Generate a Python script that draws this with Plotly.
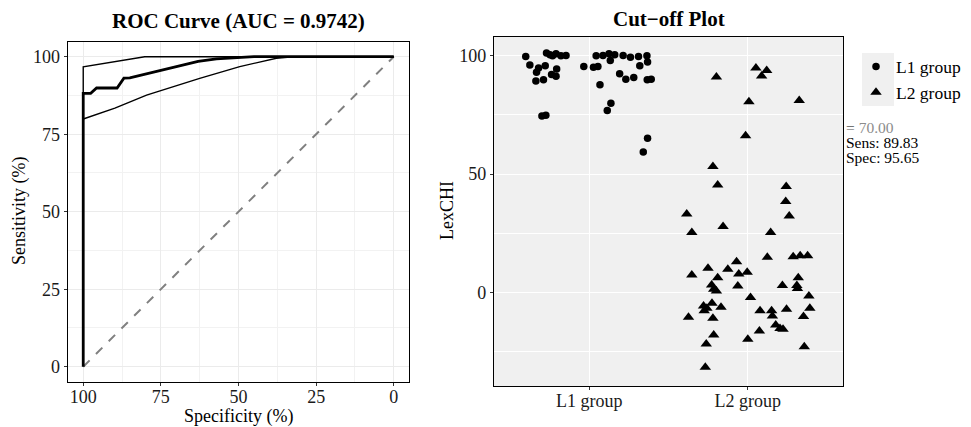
import plotly.graph_objects as go

# ---------------- ROC data ----------------
roc_spec = [100, 100, 97.6, 95.7, 89.1, 86.9, 85.0, 75.0, 63.0, 57.1, 45.0, 0]
roc_sens = [0, 88.2, 88.2, 89.9, 89.9, 93.1, 93.2, 95.5, 98.5, 99.3, 100, 100]

ci_up_spec = [100, 100, 80.2, 0]
ci_up_sens = [88.2, 96.7, 100, 100]

ci_lo_spec = [100, 89.8, 79.6, 62.5, 49.6, 37.8, 32.5, 0]
ci_lo_sens = [79.9, 83.4, 87.6, 93.0, 96.8, 99.5, 100, 100]

diag_spec = [100, 0]
diag_sens = [0, 100]

# ---------------- Cut-off plot data ----------------
group_labels = ["L1 group", "L2 group"]
l1_x = [0.600, 0.626, 0.681, 0.668, 0.664, 0.712, 0.723, 0.731, 0.753, 0.769, 0.791, 0.822,
        0.854, 0.763, 0.791, 0.795, 0.702, 0.727,
        0.966, 1.027, 1.055, 1.044, 1.087, 1.125, 1.133, 1.161, 1.214, 1.260, 1.311, 1.364,
        1.368, 1.319, 1.192, 1.231, 1.281, 1.366, 1.391, 1.068, 1.137, 1.114, 1.368, 1.341]
l1_y = [99.7, 96.1, 94.8, 93.0, 89.3, 89.9, 95.8, 101.1, 100.4, 100.0, 100.8, 100.0,
        100.1, 92.1, 91.3, 94.4, 74.6, 74.9,
        95.5, 95.1, 95.5, 100.0, 100.1, 100.8, 98.0, 100.4, 100.1, 99.4, 99.7, 100.0,
        97.3, 95.8, 92.4, 90.1, 90.8, 89.9, 90.1, 87.7, 79.9, 76.9, 65.2, 59.4]

l2_x = [1.802, 2.051, 2.087, 2.119, 2.007, 2.324, 1.986, 1.780, 1.810, 1.615, 1.647, 1.844,
        2.242, 2.239, 2.261, 2.144, 2.123, 2.286, 2.330, 2.377, 1.647, 1.749, 1.874, 1.929,
        1.943, 1.996, 1.937, 1.810, 1.772, 1.785, 1.802, 2.017, 2.218, 2.318, 2.309, 2.313,
        2.385, 1.626, 1.721, 1.725, 1.742, 1.774, 1.831, 1.780, 1.785, 1.738, 1.732, 2.077,
        2.150, 2.155, 2.244, 2.073, 2.000, 2.176, 2.203, 2.222, 2.351, 2.391, 2.356]
l2_y = [91.0, 94.8, 91.4, 93.8, 80.6, 81.1, 66.2, 53.2, 45.4, 33.2, 25.4, 27.9,
        44.8, 38.5, 32.4, 25.4, 14.9, 15.2, 15.6, 15.6, 7.5, 10.3, 9.9, 13.0,
        7.9, 8.6, 2.8, 6.3, 3.2, 1.4, 0.7, -2.0, 3.0, 6.3, 3.0, 1.8,
        -1.4, -10.4, -5.6, -7.6, -6.6, -4.5, -6.2, -10.8, -17.9, -21.7, -31.5, -7.6,
        -7.6, -9.9, -7.0, -16.2, -19.7, -13.7, -15.1, -15.5, -10.1, -6.6, -22.8]

cutoff_text = "70.00"
sens_text = "Sens: 89.83"
spec_text = "Spec: 95.65"

FONT = "Liberation Serif"
OFF = 8  # page body margin
W, H = 971 - OFF, 427 - OFF


def px_x(p):
    return (p - OFF) / W


def px_y(p):
    return 1 - (p - OFF) / H


fig = go.Figure()

# ROC traces (axis x / y)
fig.add_trace(go.Scatter(x=diag_spec, y=diag_sens, mode="lines",
                         line=dict(color="#808080", width=2, dash="dash"),
                         showlegend=False, xaxis="x", yaxis="y"))
fig.add_trace(go.Scatter(x=ci_up_spec, y=ci_up_sens, mode="lines",
                         line=dict(color="black", width=1.4),
                         showlegend=False, xaxis="x", yaxis="y"))
fig.add_trace(go.Scatter(x=ci_lo_spec, y=ci_lo_sens, mode="lines",
                         line=dict(color="black", width=1.4),
                         showlegend=False, xaxis="x", yaxis="y"))
fig.add_trace(go.Scatter(x=roc_spec, y=roc_sens, mode="lines",
                         line=dict(color="black", width=2.8),
                         showlegend=False, xaxis="x", yaxis="y"))

# Cut-off plot traces (axis x2 / y2)
fig.add_trace(go.Scatter(x=l1_x, y=l1_y, mode="markers", name=group_labels[0],
                         marker=dict(symbol="circle", size=7.5, color="black"),
                         xaxis="x2", yaxis="y2"))
fig.add_trace(go.Scatter(x=l2_x, y=l2_y, mode="markers", name=group_labels[1],
                         marker=dict(symbol="triangle-up", size=10, color="black"),
                         xaxis="x2", yaxis="y2"))

axis_font = dict(family=FONT, size=18, color="#1a1a1a")

common = dict(showline=True, linecolor="black", linewidth=1.3, mirror=True,
              ticks="outside", ticklen=3, tickcolor="#333", tickfont=axis_font,
              zeroline=False, automargin=False)


def ann(text, x, y, size, color="black", angle=0, xanchor="center"):
    return dict(text=text, x=px_x(x), y=px_y(y), xref="paper", yref="paper",
                xanchor=xanchor, yanchor="middle", showarrow=False, textangle=angle,
                font=dict(family=FONT, size=size, color=color))


fig.update_layout(
    width=W, height=H,
    margin=dict(l=0, r=0, t=0, b=0, autoexpand=False),
    paper_bgcolor="white",
    plot_bgcolor="white",
    font=dict(family=FONT, size=18, color="black"),
    xaxis=dict(domain=[px_x(67.7), px_x(409.3)], anchor="y",
               range=[105, -5], tickvals=[100, 75, 50, 25, 0],
               showgrid=True, gridcolor="#EBEBEB", gridwidth=1.2,
               minor=dict(dtick=12.5, tick0=0, showgrid=True, gridcolor="#F2F2F2", gridwidth=0.6),
               ticklabelstandoff=-4, **common),
    yaxis=dict(domain=[px_y(381.7), px_y(41.7)], anchor="x",
               range=[-4.84, 104.84], tickvals=[0, 25, 50, 75, 100],
               showgrid=True, gridcolor="#EBEBEB", gridwidth=1.2,
               minor=dict(dtick=12.5, tick0=0, showgrid=True, gridcolor="#F2F2F2", gridwidth=0.6),
               **common),
    xaxis2=dict(domain=[px_x(494), px_x(843)], anchor="y2",
                range=[0.4, 2.6], tickvals=[1, 2], ticktext=group_labels,
                showgrid=True, gridcolor="white", gridwidth=1.3,
                ticklabelstandoff=-5, **common),
    yaxis2=dict(domain=[px_y(386), px_y(37)], anchor="x2",
                range=[-39.4, 107.9], tickvals=[0, 50, 100],
                showgrid=True, gridcolor="white", gridwidth=1.3,
                minor=dict(dtick=25, tick0=0, showgrid=True, gridcolor="white", gridwidth=0.7),
                **common),
    legend=dict(x=px_x(856), y=px_y(48.5), xanchor="left", yanchor="top",
                xref="container", yref="container",
                bgcolor="rgba(0,0,0,0)", font=dict(family=FONT, size=17.5, color="black"),
                itemsizing="trace", borderwidth=0),
    shapes=[
        dict(type="rect", xref="x2 domain", yref="y2 domain", x0=0, x1=1, y0=0, y1=1,
             fillcolor="#F0F0F0", line=dict(width=0), layer="below"),
        dict(type="rect", xref="paper", yref="paper",
             x0=px_x(862), x1=px_x(894), y0=px_y(106), y1=px_y(53),
             fillcolor="#F0F0F0", line=dict(width=0), layer="below"),
    ],
    annotations=[
        ann("<b>ROC Curve (AUC = 0.9742)</b>", 238.5, 20.5, 21),
        ann("<b>Cut\u2212off Plot</b>", 668.5, 19.5, 21),
        ann("Specificity (%)", 238.5, 416, 18),
        ann("Sensitivity (%)", 20, 211, 18, angle=-90),
        ann("LexCHI", 447, 211, 18, angle=-90),
        ann("<span style='color:#555'>=</span> " + cutoff_text, 844, 127.5, 15.5,
            color="#8c8c8c", xanchor="left"),
        ann(sens_text, 844, 143, 15.5, xanchor="left"),
        ann(spec_text, 844, 157.5, 15.5, xanchor="left"),
    ],
)

fig.write_html("out.html")
